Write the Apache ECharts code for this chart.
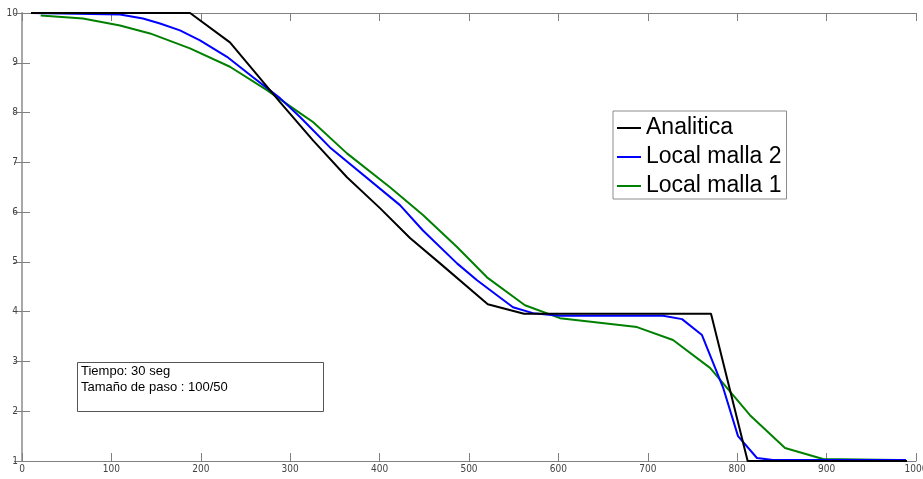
<!DOCTYPE html>
<html>
<head>
<meta charset="utf-8">
<script src="https://cdn.jsdelivr.net/npm/echarts@6/dist/echarts.min.js"></script>
<style>html,body{margin:0;padding:0;background:#fff}#c{width:923px;height:479px}</style>
</head>
<body>
<div id="c"></div>
<script>
// Data
const seriesNames = ['Analitica', 'Local malla 2', 'Local malla 1'];
const analiticaX = [10, 188, 232.6, 288.6, 325.5, 363.5, 400.4, 434, 467.6, 521, 561.5, 770.7, 811.7, 990];
const analiticaY = [10, 10, 9.41, 8.21, 7.44, 6.70, 6.08, 5.48, 4.97, 4.15, 3.96, 3.96, 1.0, 1.0];
const malla2X = [11, 109.6, 135.3, 154.4, 176.7, 199.1, 229.3, 258.4, 288.6, 311, 344.5, 422.8, 448.5, 486.6, 509, 531.3, 549.2, 571.6, 601.8, 717, 738.3, 760.6, 784.1, 800.9, 822.1, 840, 988.8];
const malla2Y = [10, 9.97, 9.89, 9.79, 9.65, 9.45, 9.12, 8.71, 8.29, 7.91, 7.30, 6.14, 5.63, 4.97, 4.63, 4.33, 4.09, 3.97, 3.92, 3.92, 3.85, 3.53, 2.48, 1.50, 1.06, 1.02, 1.02];
const malla1X = [20.9, 68.2, 109.6, 143.2, 187.9, 232.6, 274, 311, 325.5, 363.5, 411.6, 448.5, 486.6, 520.1, 562.6, 601.8, 687.9, 728.2, 769.6, 814.3, 853.5, 896, 979.9];
const malla1Y = [9.95, 9.89, 9.75, 9.59, 9.29, 8.92, 8.45, 7.99, 7.81, 7.18, 6.50, 5.94, 5.30, 4.69, 4.13, 3.87, 3.69, 3.43, 2.87, 1.92, 1.26, 1.04, 1.02];
const xTicks = [0, 100, 200, 300, 400, 500, 600, 700, 800, 900, 1000];
const yTicks = [1, 2, 3, 4, 5, 6, 7, 8, 9, 10];
const noteLines = ['Tiempo: 30 seg', 'Tamaño de paso : 100/50'];

const zip = (xs, ys) => xs.map((x, i) => [x, ys[i]]);
const colors = ['#000000', '#0000ff', '#008000'];
const dataSets = [zip(analiticaX, analiticaY), zip(malla2X, malla2Y), zip(malla1X, malla1Y)];

const tickFont = {fontFamily: 'Liberation Sans Narrow, Arial Narrow, DejaVu Sans Condensed, sans-serif', fontSize: 10, color: '#444', formatter: v => String(v)};
const axisLine = {show: true, lineStyle: {color: '#808080', width: 1}};
const axisTick = {show: true, inside: true, length: 8, lineStyle: {color: '#808080'}};

const chart = echarts.init(document.getElementById('c'));
chart.setOption({
  animation: false,
  backgroundColor: '#fff',
  grid: {left: 22, right: 7, top: 13, bottom: 18, containLabel: false, outerBoundsMode: 'none'},
  xAxis: [
    {type: 'value', min: xTicks[0], max: xTicks[xTicks.length - 1], interval: 100, position: 'bottom',
     axisLine, axisTick, splitLine: {show: false}, axisLabel: Object.assign({margin: 3}, tickFont)},
    {type: 'value', min: xTicks[0], max: xTicks[xTicks.length - 1], interval: 100, position: 'top',
     axisLine, axisTick, splitLine: {show: false}, axisLabel: {show: false}}
  ],
  yAxis: [
    {type: 'value', min: yTicks[0], max: yTicks[yTicks.length - 1], interval: 1, position: 'left',
     axisLine, axisTick, splitLine: {show: false}, axisLabel: Object.assign({margin: 4}, tickFont)},
    {type: 'value', min: yTicks[0], max: yTicks[yTicks.length - 1], interval: 1, position: 'right',
     axisLine: {show: true, lineStyle: {color: '#a8a8a8', width: 2}}, axisTick, splitLine: {show: false}, axisLabel: {show: false}}
  ],
  legend: {
    orient: 'vertical', left: 613, top: 111,
    padding: [5, 5, 1, 4], itemGap: 5,
    itemWidth: 24, itemHeight: 2, icon: 'rect',
    borderColor: '#8c8c8c', borderWidth: 1, backgroundColor: '#fff',
    selectedMode: false,
    textStyle: {fontFamily: 'Liberation Sans, Arial, sans-serif', fontSize: 23, lineHeight: 24, color: '#000'},
    data: seriesNames
  },
  series: seriesNames.map((n, i) => ({
    name: n, type: 'line', data: dataSets[i], showSymbol: false, symbol: 'none', clip: false,
    lineStyle: {color: colors[i], width: 2}, itemStyle: {color: colors[i]}, z: 3 + (2 - i)
  })),
  graphic: [
    {type: 'rect', left: 77, top: 362, shape: {width: 246, height: 49}, style: {fill: '#fff', stroke: '#555', lineWidth: 1}, z: 10},
    {type: 'text', left: 81, top: 363, style: {text: noteLines.join('\n'), font: '13px "Liberation Sans", Arial, sans-serif', fill: '#000', lineHeight: 16.5}, z: 11}
  ]
});
</script>
</body>
</html>
